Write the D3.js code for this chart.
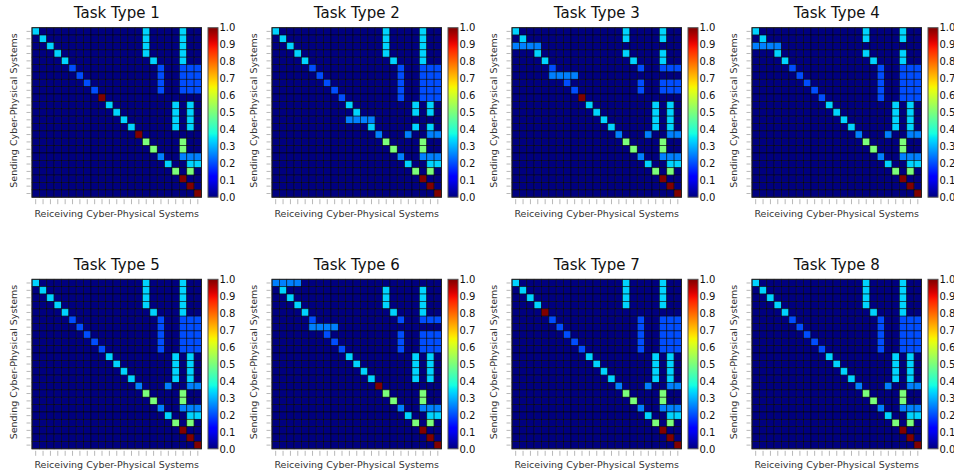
<!DOCTYPE html>
<html>
<head>
<meta charset="utf-8">
<script src="https://cdn.jsdelivr.net/npm/d3@7"></script>
<style>
  body { margin: 0; background: #fff; }
  text { font-family: "DejaVu Sans", sans-serif; }
</style>
</head>
<body>
<svg id="chart" width="954" height="475"></svg>
<script>
(() => {
	const svg = d3.select("#chart");

	// 23 cyber-physical systems on each axis
	const systems = d3.range(23);
	const taskTitles = ["Task Type 1", "Task Type 2", "Task Type 3", "Task Type 4",
	                    "Task Type 5", "Task Type 6", "Task Type 7", "Task Type 8"];
	const cbTicks = [0, 0.1, 0.2, 0.3, 0.4, 0.5, 0.6, 0.7, 0.8, 0.9, 1.0];

	// rows: [sending system, value, receiving systems]
	const tailRows = [
		[15, 0.5, [15, 20]],
		[16, 0.5, [16, 20]],
		[17, 0.25, [17, 20, 21, 22]],
		[18, 0.333, [18, 21, 22]],
		[19, 0.5, [19, 21]],
		[20, 1.0, [20]],
		[21, 1.0, [21]],
		[22, 1.0, [22]]
	];
	const task1 = [
		[0, 0.333, [0, 15, 20]], [1, 0.333, [1, 15, 20]], [2, 0.333, [2, 15, 20]],
		[3, 0.333, [3, 15, 20]], [4, 0.333, [4, 16, 20]],
		[5, 0.2, [5, 17, 20, 21, 22]], [6, 0.2, [6, 17, 20, 21, 22]],
		[7, 0.2, [7, 17, 20, 21, 22]], [8, 0.2, [8, 17, 20, 21, 22]],
		[9, 1.0, [9]],
		[10, 0.333, [10, 19, 21]], [11, 0.333, [11, 19, 21]],
		[12, 0.333, [12, 19, 21]], [13, 0.333, [13, 19, 21]],
		[14, 1.0, [14]]
	];
	const task2 = [
		[0, 0.333, [0, 15, 20]], [1, 0.333, [1, 15, 20]], [2, 0.333, [2, 15, 20]],
		[3, 0.333, [3, 15, 20]], [4, 0.333, [4, 16, 20]],
		[5, 0.2, [5, 17, 20, 21, 22]], [6, 0.2, [6, 17, 20, 21, 22]],
		[7, 0.2, [7, 17, 20, 21, 22]], [8, 0.2, [8, 17, 20, 21, 22]],
		[9, 0.2, [9, 17, 20, 21, 22]],
		[10, 0.333, [10, 19, 21]], [11, 0.333, [11, 19, 21]],
		[12, 0.25, [10, 11, 12, 13]], [13, 0.333, [13, 19, 21]],
		[14, 0.25, [14, 18, 21, 22]]
	];
	const task3 = [
		[0, 0.333, [0, 15, 20]], [1, 0.333, [1, 15, 20]], [2, 0.25, [0, 1, 2, 3]],
		[3, 0.333, [3, 15, 20]], [4, 0.333, [4, 16, 20]],
		[5, 0.2, [5, 17, 20, 21, 22]], [6, 0.25, [5, 6, 7, 8]],
		[7, 0.2, [7, 17, 20, 21, 22]], [8, 0.2, [8, 17, 20, 21, 22]],
		[9, 1.0, [9]],
		[10, 0.333, [10, 19, 21]], [11, 0.333, [11, 19, 21]],
		[12, 0.333, [12, 19, 21]], [13, 0.333, [13, 19, 21]],
		[14, 0.25, [14, 18, 21, 22]]
	];
	const task4 = [
		[0, 0.333, [0, 15, 20]], [1, 0.333, [1, 15, 20]], [2, 0.25, [0, 1, 2, 3]],
		[3, 0.333, [3, 15, 20]], [4, 0.333, [4, 16, 20]],
		[5, 0.2, [5, 17, 20, 21, 22]], [6, 0.2, [6, 17, 20, 21, 22]],
		[7, 0.2, [7, 17, 20, 21, 22]], [8, 0.2, [8, 17, 20, 21, 22]],
		[9, 0.2, [9, 17, 20, 21, 22]],
		[10, 0.333, [10, 19, 21]], [11, 0.333, [11, 19, 21]],
		[12, 0.333, [12, 19, 21]], [13, 0.333, [13, 19, 21]],
		[14, 0.25, [14, 18, 21, 22]]
	];
	const task5 = [
		[0, 0.333, [0, 15, 20]], [1, 0.333, [1, 15, 20]], [2, 0.333, [2, 15, 20]],
		[3, 0.333, [3, 15, 20]], [4, 0.333, [4, 16, 20]],
		[5, 0.2, [5, 17, 20, 21, 22]], [6, 0.2, [6, 17, 20, 21, 22]],
		[7, 0.2, [7, 17, 20, 21, 22]], [8, 0.2, [8, 17, 20, 21, 22]],
		[9, 0.2, [9, 17, 20, 21, 22]],
		[10, 0.333, [10, 19, 21]], [11, 0.333, [11, 19, 21]],
		[12, 0.333, [12, 19, 21]], [13, 0.333, [13, 19, 21]],
		[14, 0.25, [14, 18, 21, 22]]
	];
	const task6 = [
		[0, 0.25, [0, 1, 2, 3]], [1, 0.333, [1, 15, 20]], [2, 0.333, [2, 15, 20]],
		[3, 0.333, [3, 15, 20]], [4, 0.333, [4, 16, 20]],
		[5, 0.2, [5, 17, 20, 21, 22]], [6, 0.25, [5, 6, 7, 8]],
		[7, 0.2, [7, 17, 20, 21, 22]], [8, 0.2, [8, 17, 20, 21, 22]],
		[9, 0.2, [9, 17, 20, 21, 22]],
		[10, 0.333, [10, 19, 21]], [11, 0.333, [11, 19, 21]],
		[12, 0.333, [12, 19, 21]], [13, 0.333, [13, 19, 21]],
		[14, 1.0, [14]]
	];
	const task7 = [
		[0, 0.333, [0, 15, 20]], [1, 0.333, [1, 15, 20]], [2, 0.333, [2, 15, 20]],
		[3, 0.333, [3, 15, 20]], [4, 1.0, [4]],
		[5, 0.2, [5, 17, 20, 21, 22]], [6, 0.2, [6, 17, 20, 21, 22]],
		[7, 0.2, [7, 17, 20, 21, 22]], [8, 0.2, [8, 17, 20, 21, 22]],
		[9, 0.2, [9, 17, 20, 21, 22]],
		[10, 0.333, [10, 19, 21]], [11, 0.333, [11, 19, 21]],
		[12, 0.333, [12, 19, 21]], [13, 0.333, [13, 19, 21]],
		[14, 0.25, [14, 18, 21, 22]]
	];
	const task8 = [
		[0, 0.333, [0, 15, 20]], [1, 0.333, [1, 15, 20]], [2, 0.333, [2, 15, 20]],
		[3, 0.333, [3, 15, 20]], [4, 0.333, [4, 16, 20]],
		[5, 0.2, [5, 17, 20, 21, 22]], [6, 0.2, [6, 17, 20, 21, 22]],
		[7, 0.2, [7, 17, 20, 21, 22]], [8, 0.2, [8, 17, 20, 21, 22]],
		[9, 0.2, [9, 17, 20, 21, 22]],
		[10, 0.333, [10, 19, 21]], [11, 0.333, [11, 19, 21]],
		[12, 0.333, [12, 19, 21]], [13, 0.333, [13, 19, 21]],
		[14, 0.25, [14, 18, 21, 22]]
	];
	const tasks = [task1, task2, task3, task4, task5, task6, task7, task8];

	// matplotlib "jet"
	const rS = d3.scaleLinear().domain([0, 0.35, 0.66, 0.89, 1]).range([0, 0, 1, 1, 0.5]).clamp(true);
	const gS = d3.scaleLinear().domain([0, 0.125, 0.375, 0.64, 0.91, 1]).range([0, 0, 1, 1, 0, 0]).clamp(true);
	const bS = d3.scaleLinear().domain([0, 0.11, 0.34, 0.65, 1]).range([0.5, 1, 1, 0, 0]).clamp(true);
	const jet = t => d3.rgb(rS(t) * 255, gS(t) * 255, bS(t) * 255).formatHex();

	const defs = svg.append("defs");
	const grad = defs.append("linearGradient").attr("id", "jet-grad")
		.attr("x1", 0).attr("x2", 0).attr("y1", 1).attr("y2", 0);
	d3.range(0, 1.0001, 0.025).forEach(t => {
		grad.append("stop").attr("offset", t).attr("stop-color", jet(t));
	});

	const SIZE = 169.5;
	const colX = [32, 272, 512, 752];
	const rowY = [27.7, 279.3];

	const x = d3.scaleBand().domain(systems).range([0, SIZE]);
	const y = d3.scaleBand().domain(systems).range([0, SIZE]);
	const cb = d3.scaleLinear().domain([0, 1]).range([SIZE, 0]);

	tasks.forEach((rows, k) => {
		const ox = colX[k % 4], oy = rowY[Math.floor(k / 4)];
		const cells = [];
		systems.forEach(r => systems.forEach(c => cells.push({ r, c, v: 0 })));
		rows.concat(tailRows).forEach(([r, v, cols]) => {
			cols.forEach(c => { cells[r * 23 + c].v = v; });
		});

		const g = svg.append("g").attr("transform", `translate(${ox},${oy})`);

		g.selectAll("rect.cell").data(cells).join("rect")
			.attr("class", "cell")
			.attr("x", d => x(d.c)).attr("y", d => y(d.r))
			.attr("width", x.bandwidth()).attr("height", y.bandwidth())
			.attr("fill", d => jet(d.v))
			.attr("stroke", "#000").attr("stroke-opacity", 0.75).attr("stroke-width", 0.7);

		g.append("rect").attr("width", SIZE).attr("height", SIZE)
			.attr("fill", "none").attr("stroke", "#222").attr("stroke-width", 1);

		// tiny tick marks standing in for the unreadable system names
		const ax = g.append("g").attr("transform", "translate(-1.5,0)")
			.call(d3.axisLeft(y).tickSize(4).tickFormat(""));
		const bx = g.append("g").attr("transform", `translate(0,${SIZE + 2})`)
			.call(d3.axisBottom(x).tickSize(5).tickFormat(""));
		[ax, bx].forEach(a => {
			a.select(".domain").remove();
			a.selectAll("line").attr("stroke", "#b8b8b8");
		});

		g.append("text").attr("x", SIZE / 2).attr("y", -9.5)
			.attr("text-anchor", "middle").attr("font-size", 15).attr("fill", "#111")
			.text(taskTitles[k]);

		g.append("text").attr("x", SIZE / 2).attr("y", SIZE + 19.5)
			.attr("text-anchor", "middle").attr("font-size", 9.5).attr("fill", "#333")
			.text("Reiceiving Cyber-Physical Systems");

		g.append("text")
			.attr("transform", `translate(-15.5,${SIZE / 2 - 2}) rotate(-90)`)
			.attr("text-anchor", "middle").attr("font-size", 9.5).attr("fill", "#333")
			.text("Sending Cyber-Physical Systems");

		// colorbar
		const cg = g.append("g").attr("transform", `translate(${176},0)`);
		cg.append("rect").attr("width", 10).attr("height", SIZE)
			.attr("fill", "url(#jet-grad)").attr("stroke", "#555").attr("stroke-width", 1);
		const cax = cg.append("g").attr("transform", "translate(10,0)")
			.call(d3.axisRight(cb).tickValues(cbTicks).tickFormat(d3.format(".1f"))
				.tickSize(0).tickPadding(1.5));
		cax.select(".domain").remove();
		cax.selectAll("text").attr("font-size", 10).attr("fill", "#111")
			.attr("font-family", "DejaVu Sans, sans-serif");
	});
})();
</script>
</body>
</html>
